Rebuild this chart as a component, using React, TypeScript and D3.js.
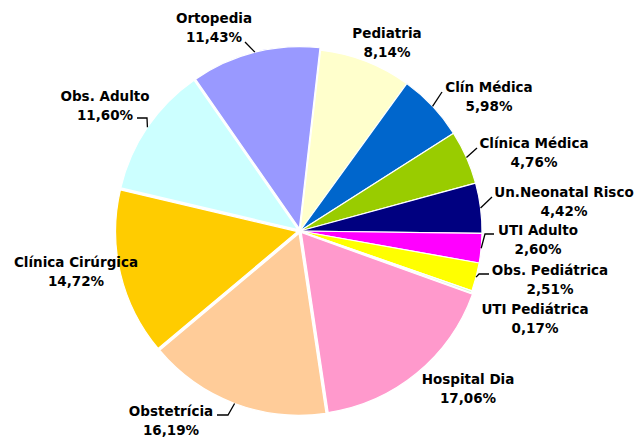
import { useEffect, useRef } from "react";
import * as d3 from "d3";

/** ---- Data ---- **/
const categories = [
  "Pediatria",
  "Clín Médica",
  "Clínica Médica",
  "Un.Neonatal Risco",
  "UTI Adulto",
  "Obs. Pediátrica",
  "UTI Pediátrica",
  "Hospital Dia",
  "Obstetrícia",
  "Clínica Cirúrgica",
  "Obs. Adulto",
  "Ortopedia",
];
const values = [8.14, 5.98, 4.76, 4.42, 2.6, 2.51, 0.17, 17.06, 16.19, 14.72, 11.6, 11.43];
const colors = [
  "#FFFFCC", "#0066CC", "#99CC00", "#000080", "#FF00FF", "#FFFF00",
  "#CCFFCC", "#FF99CC", "#FFCC99", "#FFCC00", "#CCFFFF", "#9999FF",
];

/** ---- Layout (label anchors and leader elbows, px) ---- **/
const labelPos: [number, number][] = [
  [387, 33], [489, 87], [534, 143], [564, 192], [538, 230], [550, 270],
  [535, 309], [468, 379], [171, 411], [76, 262], [105, 96], [214, 18],
];
// leader line points before reaching the slice edge (null = no leader)
const leaders: ([number, number][] | null)[] = [
  null,
  [[442, 92]],
  [[477, 148]],
  [[492, 197]],
  [[494, 234], [485, 234]],
  [[489, 274], [479, 274]],
  null,
  null,
  [[217, 415], [228, 415]],
  null,
  [[137, 118], [147, 118]],
  [[245, 42]],
];
const explode = [0, 0, 0, 0, 0, 0, 0, 2, 2.5, 2.5, 2.5, 2.5];

const locale = d3.formatLocale({ decimal: ",", thousands: ".", grouping: [3], currency: ["R$", ""] });
const fmt = locale.format(".2f");

export default function App() {
  const svgRef = useRef<SVGSVGElement>(null);

  useEffect(() => {
    const svg = d3.select(svgRef.current);
    svg.selectAll("*").remove();

    const cx = 300, cy = 231, r = 182;
    const start = (6.5 * Math.PI) / 180;
    const data = categories.map((c, i) => ({ c, v: values[i], i }));

    const pie = d3.pie<any>().value(d => d.v).sort(null)
      .startAngle(start).endAngle(start + 2 * Math.PI);
    const arcs = pie(data);
    const arc = d3.arc<any>().innerRadius(0).outerRadius(r);

    const g = svg.append("g").attr("transform", `translate(${cx},${cy})`);
    g.selectAll("path")
      .data(arcs)
      .join("path")
      .attr("d", arc)
      .attr("fill", d => colors[d.data.i])
      .attr("stroke", "#fff")
      .attr("stroke-width", 1.2)
      .attr("stroke-linejoin", "round")
      .attr("transform", d => {
        const a = (d.startAngle + d.endAngle) / 2;
        const e = explode[d.data.i];
        return `translate(${e * Math.sin(a)},${-e * Math.cos(a)})`;
      });

    // Leader lines
    const line = d3.line();
    arcs.forEach(d => {
      const pts = leaders[d.data.i];
      if (!pts) return;
      const a = (d.startAngle + d.endAngle) / 2;
      const rr = r + explode[d.data.i];
      const end: [number, number] = [cx + rr * Math.sin(a), cy - rr * Math.cos(a)];
      svg.append("path")
        .attr("d", line([...pts, end]))
        .attr("fill", "none")
        .attr("stroke", "#000")
        .attr("stroke-width", 1.3);
    });

    // Labels
    arcs.forEach(d => {
      const [x, y] = labelPos[d.data.i];
      const t = svg.append("text")
        .attr("x", x)
        .attr("y", y + 5)
        .attr("text-anchor", "middle")
        .attr("font-family", "'DejaVu Sans', Verdana, sans-serif")
        .attr("font-weight", "bold")
        .attr("font-size", 13.5)
        .attr("fill", "#000");
      t.append("tspan").attr("x", x).text(d.data.c);
      t.append("tspan").attr("x", x).attr("dy", 18.8).text(fmt(d.data.v) + "%");
    });
  }, []);

  return (
    <svg
      ref={svgRef}
      width={642}
      height={441}
      style={{ position: "absolute", left: 0, top: 0, background: "#fff" }}
    />
  );
}
